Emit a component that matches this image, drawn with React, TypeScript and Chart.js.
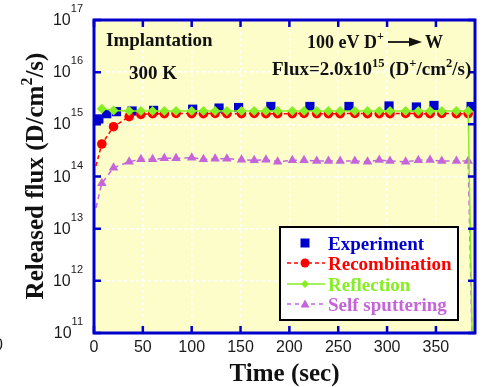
import React, { useEffect, useRef } from 'react';
import { Chart, registerables } from 'chart.js';
Chart.register(...registerables);

// ---- data ----
const experimentTime = [5, 13, 23, 39, 61, 101, 128, 148, 181, 221, 261, 302, 330, 348, 386];
const experimentFlux = [1.27e15, 1.6e15, 1.75e15, 1.8e15, 1.85e15, 1.95e15, 2.05e15, 2.1e15, 2.2e15, 2.2e15, 2.2e15, 2.25e15, 2.15e15, 2.3e15, 2.2e15];

const modelTime = [2, 8, 20, 36, 48, 60, 72, 84, 100, 112, 124, 136, 151, 164, 176, 188, 203, 215, 228, 240, 252, 267, 280, 292, 303, 319, 332, 344, 356, 371, 383, 388];
const recombinationFlux = [1.6e14, 4.2e14, 9.0e14, 1.4e15, 1.55e15, 1.6e15, 1.6e15, 1.62e15, 1.6e15, 1.6e15, 1.62e15, 1.6e15, 1.6e15, 1.62e15, 1.6e15, 1.6e15, 1.6e15, 1.62e15, 1.6e15, 1.6e15, 1.6e15, 1.62e15, 1.6e15, 1.6e15, 1.6e15, 1.62e15, 1.6e15, 1.6e15, 1.62e15, 1.6e15, 1.6e15, null];
const reflectionFlux = [null, 2.0e15, 1.85e15, 1.8e15, 1.8e15, 1.8e15, 1.8e15, 1.8e15, 1.8e15, 1.8e15, 1.8e15, 1.8e15, 1.8e15, 1.8e15, 1.8e15, 1.8e15, 1.8e15, 1.8e15, 1.8e15, 1.8e15, 1.8e15, 1.8e15, 1.8e15, 1.8e15, 1.8e15, 1.8e15, 1.8e15, 1.8e15, 1.8e15, 1.8e15, 1.8e15, 1e10];
const sputteringFlux = [2.5e13, 7.4e13, 1.47e14, 1.92e14, 2.14e14, 2.14e14, 2.23e14, 2.23e14, 2.3e14, 2.14e14, 2.18e14, 2.2e14, 2.1e14, 2.05e14, 2.1e14, 1.92e14, 2.05e14, 2.05e14, 1.98e14, 1.98e14, 1.98e14, 1.98e14, 1.92e14, 2.08e14, 1.98e14, 1.92e14, 2.05e14, 2.08e14, 1.98e14, 1.98e14, 1.98e14, 1e10];

const xTicks = [0, 50, 100, 150, 200, 250, 300, 350];
const yDecades = [11, 12, 13, 14, 15, 16, 17];
const seriesLabels = ['Experiment', 'Recombination', 'Reflection', 'Self sputtering'];

const BLUE = '#0000CC';
const RED = '#FF0000';
const GREEN = '#86EE24';
const PURPLE = '#C466DA';
const SERIF = '"Liberation Serif", "Times New Roman", serif';
const SANS = '"Liberation Sans", Arial, sans-serif';

type Part = [string, boolean?];

function richWidth(ctx: CanvasRenderingContext2D, parts: Part[], base: string, sup: string) {
  let w = 0;
  for (const [t, s] of parts) {
    ctx.font = s ? sup : base;
    w += ctx.measureText(t).width;
  }
  return w;
}
function drawRich(ctx: CanvasRenderingContext2D, x: number, y: number, parts: Part[], base: string, sup: string, raise: number) {
  let cx = x;
  ctx.textAlign = 'left';
  ctx.textBaseline = 'alphabetic';
  for (const [t, s] of parts) {
    ctx.font = s ? sup : base;
    ctx.fillText(t, cx, s ? y - raise : y);
    cx += ctx.measureText(t).width;
  }
  return cx;
}

function marker(ctx: CanvasRenderingContext2D, kind: string, x: number, y: number, r: number, color: string) {
  ctx.fillStyle = color;
  ctx.beginPath();
  if (kind === 'rect') ctx.rect(x - r, y - r, 2 * r, 2 * r);
  else if (kind === 'circle') ctx.arc(x, y, r, 0, Math.PI * 2);
  else if (kind === 'rectRot') { ctx.moveTo(x, y - r); ctx.lineTo(x + r, y); ctx.lineTo(x, y + r); ctx.lineTo(x - r, y); ctx.closePath(); }
  else if (kind === 'triangle') { ctx.moveTo(x, y - r); ctx.lineTo(x + r, y + r * 0.8); ctx.lineTo(x - r, y + r * 0.8); ctx.closePath(); }
  ctx.fill();
}

const decorPlugin = {
  id: 'decor',
  beforeDraw(chart: any) {
    const { ctx, chartArea: a } = chart;
    ctx.save();
    ctx.fillStyle = '#FDFDC9';
    ctx.fillRect(a.left, a.top, a.right - a.left, a.bottom - a.top);
    ctx.restore();
  },
  afterDraw(chart: any) {
    const { ctx, chartArea: a } = chart;
    const xs = chart.scales.x;
    const ys = chart.scales.y;
    ctx.save();
    // inner ticks
    ctx.strokeStyle = BLUE;
    ctx.lineWidth = 2.5;
    ctx.beginPath();
    for (const t of xTicks) {
      const px = xs.getPixelForValue(t);
      ctx.moveTo(px, a.top); ctx.lineTo(px, a.top + 7);
      ctx.moveTo(px, a.bottom); ctx.lineTo(px, a.bottom - 7);
    }
    for (const d of yDecades) {
      const py = ys.getPixelForValue(Math.pow(10, d));
      ctx.moveTo(a.left, py); ctx.lineTo(a.left + 7, py);
      ctx.moveTo(a.right, py); ctx.lineTo(a.right - 7, py);
    }
    ctx.stroke();
    // frame
    ctx.lineWidth = 3;
    ctx.strokeRect(a.left, a.top, a.right - a.left, a.bottom - a.top);

    // x tick labels
    ctx.fillStyle = '#1a1a1a';
    ctx.font = `16px ${SANS}`;
    ctx.textAlign = 'center';
    ctx.textBaseline = 'alphabetic';
    for (const t of xTicks) {
      ctx.fillText(String(t), xs.getPixelForValue(t), a.bottom + 19);
    }
    // y tick labels
    for (const d of yDecades) {
      const py = ys.getPixelForValue(Math.pow(10, d));
      ctx.font = `11px ${SANS}`;
      const sw = ctx.measureText(String(d)).width;
      ctx.font = `16px ${SANS}`;
      const bw = ctx.measureText('10').width;
      const right = a.left - 11;
      ctx.textAlign = 'left';
      ctx.font = `16px ${SANS}`;
      ctx.fillText('10', right - sw - bw, py + 5);
      ctx.font = `11px ${SANS}`;
      ctx.fillText(String(d), right - sw, py - 8);
    }
    // stray digit at left edge
    ctx.font = `16px ${SANS}`;
    ctx.textAlign = 'left';
    ctx.fillText('0', -6, 350);

    // axis titles
    ctx.fillStyle = '#111';
    ctx.font = `bold 25px ${SERIF}`;
    ctx.textAlign = 'center';
    ctx.fillText('Time (sec)', (a.left + a.right) / 2 + 0, 381);
    const yParts: Part[] = [['Released flux (D/cm'], ['2', true], ['/s)']];
    const yb = `bold 25px ${SERIF}`;
    const ysup = `bold 16px ${SERIF}`;
    ctx.save();
    ctx.translate(43, 176);
    ctx.rotate(-Math.PI / 2);
    const yw = richWidth(ctx, yParts, yb, ysup);
    drawRich(ctx, -yw / 2, 0, yParts, yb, ysup, 11);
    ctx.restore();

    // annotations
    ctx.fillStyle = '#111';
    const ab = `bold 19px ${SERIF}`;
    ctx.font = ab;
    ctx.textAlign = 'left';
    ctx.fillText('Implantation', 106, 46);
    ctx.fillText('300 K', 129, 79);
    const hb = `bold 18px ${SERIF}`;
    const hs = `bold 12px ${SERIF}`;
    drawRich(ctx, 307, 48, [['100 eV D'], ['+', true]], hb, hs, 8);
    const ax0 = 388, ax1 = 422, ay = 42;
    ctx.strokeStyle = '#111';
    ctx.lineWidth = 1.8;
    ctx.beginPath(); ctx.moveTo(ax0, ay); ctx.lineTo(ax1 - 10, ay); ctx.stroke();
    ctx.beginPath(); ctx.moveTo(ax1, ay); ctx.lineTo(ax1 - 13, ay - 4.5); ctx.lineTo(ax1 - 13, ay + 4.5); ctx.closePath(); ctx.fill();
    ctx.font = hb;
    ctx.fillText('W', 425, 48);
    drawRich(ctx, 272, 75, [['Flux=2.0x10'], ['15', true], [' (D'], ['+', true], ['/cm'], ['2', true], ['/s)']], `bold 19px ${SERIF}`, `bold 12.5px ${SERIF}`, 8);

    // legend
    const lx = 280, ly = 227, lw = 178, lh = 93;
    ctx.fillStyle = '#fff';
    ctx.fillRect(lx, ly, lw, lh);
    ctx.strokeStyle = '#000';
    ctx.lineWidth = 2;
    ctx.strokeRect(lx, ly, lw, lh);
    const rows = [
      { label: seriesLabels[0], color: BLUE, kind: 'rect', r: 4.5, dash: null as number[] | null, line: false },
      { label: seriesLabels[1], color: RED, kind: 'circle', r: 4.5, dash: [4, 3], line: true },
      { label: seriesLabels[2], color: GREEN, kind: 'rectRot', r: 4, dash: [], line: true },
      { label: seriesLabels[3], color: PURPLE, kind: 'triangle', r: 4.5, dash: [4, 4], line: true },
    ];
    const rowY = [243, 263, 284, 304];
    rows.forEach((row, i) => {
      const cy = rowY[i];
      if (row.line) {
        ctx.strokeStyle = row.color;
        ctx.lineWidth = 1.5;
        ctx.setLineDash(row.dash || []);
        ctx.beginPath(); ctx.moveTo(287, cy); ctx.lineTo(325, cy); ctx.stroke();
        ctx.setLineDash([]);
      }
      marker(ctx, row.kind, 305, cy, row.r, row.color);
      ctx.fillStyle = row.color;
      ctx.font = `bold 19px ${SERIF}`;
      ctx.textAlign = 'left';
      ctx.fillText(row.label, 328, cy + 7);
    });
    ctx.restore();
  },
};

const hideEnds = (c: any) => (c.dataIndex === 0 || c.dataIndex === modelTime.length - 1 ? 0 : undefined);

export default function App() {
  const ref = useRef<HTMLCanvasElement | null>(null);
  useEffect(() => {
    if (!ref.current) return;
    const pts = (xs: number[], ys: (number | null)[]) => xs.map((x, i) => ({ x, y: ys[i] }));
    const chart = new Chart(ref.current, {
      type: 'line',
      data: {
        datasets: [
          {
            label: seriesLabels[0],
            data: pts(experimentTime, experimentFlux),
            showLine: false,
            pointStyle: 'rect',
            pointRadius: 6.5,
            backgroundColor: BLUE,
            borderColor: BLUE,
            borderWidth: 0,
            order: 2,
          },
          {
            label: seriesLabels[1],
            data: pts(modelTime, recombinationFlux),
            borderColor: RED,
            backgroundColor: RED,
            borderWidth: 1.5,
            borderDash: [4, 3],
            pointStyle: 'circle',
            pointRadius: (c: any) => hideEnds(c) ?? 4.8,
            pointBorderWidth: 0,
            order: 1,
          },
          {
            label: seriesLabels[2],
            data: pts(modelTime, reflectionFlux),
            borderColor: GREEN,
            backgroundColor: GREEN,
            borderWidth: 1.5,
            pointStyle: 'rectRot',
            pointRadius: (c: any) => hideEnds(c) ?? 5,
            pointBorderWidth: 0,
            order: 0,
          },
          {
            label: seriesLabels[3],
            data: pts(modelTime, sputteringFlux),
            borderColor: PURPLE,
            backgroundColor: PURPLE,
            borderWidth: 1.5,
            borderDash: [5, 4],
            pointStyle: 'triangle',
            pointRadius: (c: any) => hideEnds(c) ?? 5.5,
            pointBorderWidth: 0,
            order: 3,
          },
        ],
      },
      options: {
        responsive: false,
        animation: false,
        layout: { padding: { left: 0, top: 20, right: 11, bottom: 0 } },
        plugins: { legend: { display: false }, tooltip: { enabled: false } },
        elements: { line: { tension: 0 } },
        scales: {
          x: {
            type: 'linear',
            min: 0,
            max: 390,
            ticks: { display: false },
            grid: { color: '#ffffff', lineWidth: 1.5, drawTicks: false },
            border: { display: false, dash: [3, 3] },
            afterBuildTicks: (s: any) => { s.ticks = xTicks.map((v) => ({ value: v })); },
            afterFit: (s: any) => { s.height = 54; },
          },
          y: {
            type: 'logarithmic',
            min: 1e11,
            max: 1e17,
            ticks: { display: false },
            grid: { color: '#ffffff', lineWidth: 1.5, drawTicks: false },
            border: { display: false, dash: [3, 3] },
            afterBuildTicks: (s: any) => { s.ticks = yDecades.map((d) => ({ value: Math.pow(10, d) })); },
            afterFit: (s: any) => { s.width = 94; },
          },
        },
      },
      plugins: [decorPlugin],
    } as any);
    return () => chart.destroy();
  }, []);
  return (
    <div style={{ position: 'fixed', left: 0, top: 0, width: 486, height: 387, background: '#fff' }}>
      <canvas ref={ref} width={486} height={387} style={{ display: 'block' }} />
    </div>
  );
}
